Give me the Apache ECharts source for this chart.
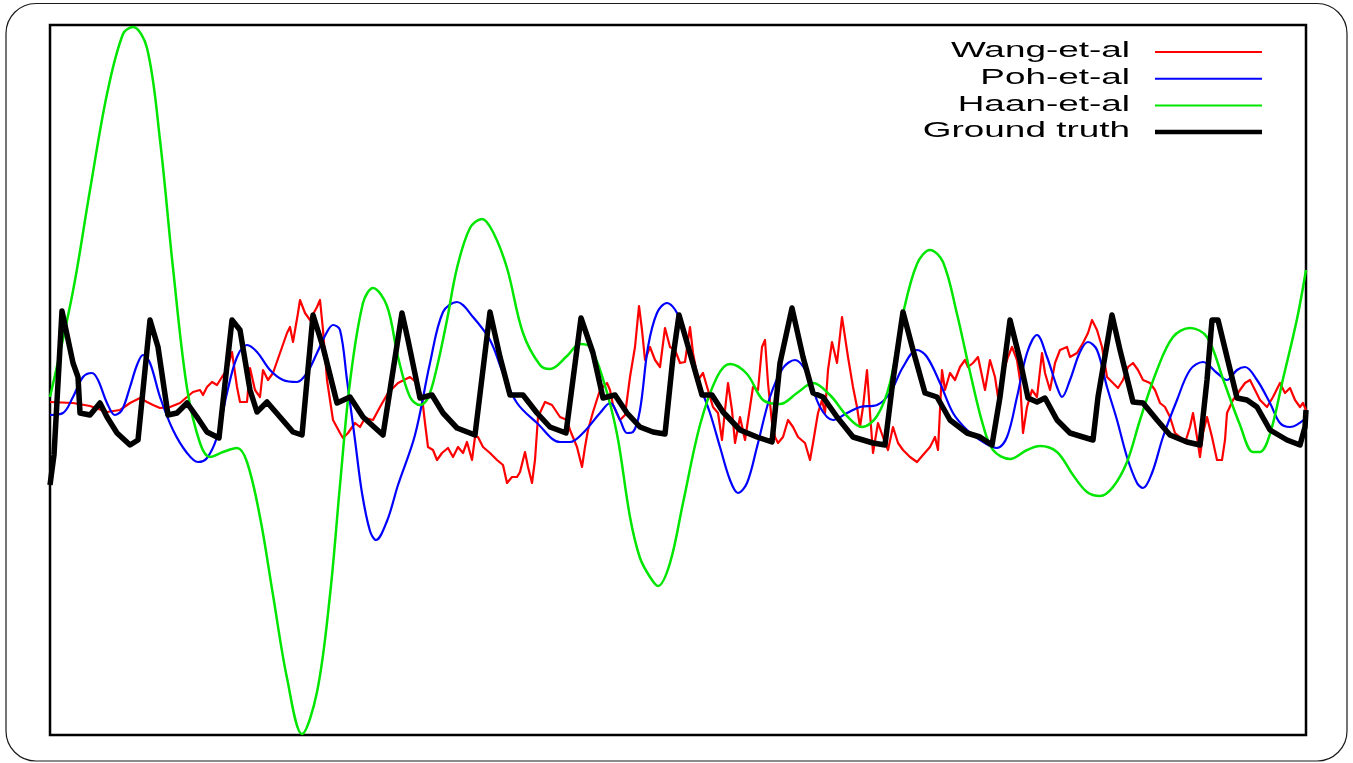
<!DOCTYPE html>
<html>
<head>
<meta charset="utf-8">
<script src="https://cdn.jsdelivr.net/npm/echarts@6/dist/echarts.min.js"></script>
<style>
  html, body { margin: 0; padding: 0; background: #fff; }
  #chart { width: 1353px; height: 763px; }
</style>
</head>
<body>
<div id="chart"></div>
<script>
// Series names (legend order)
const seriesNames = ['Wang-et-al', 'Poh-et-al', 'Haan-et-al', 'Ground truth'];
const seriesColors = ['#ff0000', '#0000ff', '#00e600', '#000000'];

// Each point: [time sample, amplitude]
const wangEtAl = [
  [0,-22],[23,-23],[40,-26],[57,-32],[70,-30],[80,-23],[90,-18],[97,-22],[103,-25],[110,-28],[120,-27],[130,-23],
  [137,-17],[143,-12],[150,-10],[153,-15],[157,-7],[162,-2],[167,-5],[172,3],[177,10],[182,28],[187,-7],[190,-22],
  [197,-22],[200,12],[205,-10],[210,-17],[213,10],[218,0],[223,7],[230,27],[237,47],[240,53],[243,38],[248,67],
  [250,80],[255,67],[260,60],[267,73],[270,80],[273,50],[277,0],[283,-40],[290,-53],[293,-58],[298,-53],[305,-43],
  [310,-47],[315,-38],[323,-40],[330,-27],[338,-13],[348,-3],[360,3],[367,-3],[372,-17],[375,-43],[378,-67],[383,-70],
  [387,-80],[392,-73],[398,-68],[403,-77],[408,-67],[413,-73],[417,-62],[422,-80],[425,-57],[428,-57],[433,-67],[440,-73],
  [447,-80],[453,-85],[457,-103],[462,-97],[467,-97],[470,-92],[475,-72],[478,-87],[482,-103],[485,-80],[488,-37],[495,-22],
  [502,-25],[510,-37],[517,-40],[520,-50],[527,-67],[532,-87],[535,-67],[538,-50],[543,-32],[550,-10],[557,-3],[560,-10],
  [563,-25],[570,-40],[575,-35],[580,3],[585,33],[589,74],[592,50],[595,20],[600,33],[605,20],[610,13],[615,52],
  [620,33],[625,30],[630,17],[635,18],[640,53],[643,27],[648,0],[653,7],[658,-10],[663,-27],[668,-33],[672,-60],
  [675,-30],[678,-3],[682,-30],[685,-63],[690,-37],[695,-60],[700,-27],[703,-7],[708,-10],[712,33],[715,40],[718,-3],
  [722,-43],[725,-57],[728,-63],[733,-57],[738,-40],[743,-47],[748,-57],[755,-63],[760,-80],[763,-63],[768,-33],[772,-20],
  [775,-33],[778,10],[782,38],[787,17],[792,63],[795,43],[798,23],[803,-7],[807,-27],[810,-47],[813,-27],[817,10],
  [820,-33],[823,-73],[828,-43],[833,-57],[838,-70],[843,-47],[848,-63],[853,-70],[860,-77],[867,-82],[873,-75],[880,-67],
  [885,-57],[888,-70],[892,10],[895,-10],[900,7],[905,0],[910,13],[915,20],[918,13],[923,17],[928,23],[935,-10],
  [940,20],[945,3],[948,-17],[953,7],[958,23],[962,33],[967,20],[970,0],[973,-53],[977,-27],[982,-10],[987,-17],
  [992,27],[995,7],[1000,-10],[1005,17],[1010,30],[1017,33],[1020,23],[1027,27],[1033,37],[1038,47],[1042,60],[1047,50],
  [1052,33],[1057,3],[1063,-3],[1068,-8],[1073,0],[1078,13],[1083,17],[1088,10],[1093,0],[1100,-3],[1105,-10],[1110,-23],
  [1115,-27],[1120,-37],[1125,-53],[1130,-57],[1135,-63],[1140,-47],[1143,-33],[1147,-57],[1150,-77],[1153,-53],[1157,-37],[1162,-57],
  [1167,-80],[1172,-80],[1175,-60],[1177,-33],[1183,-20],[1190,-10],[1195,-3],[1200,0],[1205,-10],[1210,-20],[1217,-27],[1223,-17],
  [1230,-3],[1235,-13],[1240,-8],[1245,-20],[1250,-27],[1253,-23],[1256,-30]
];

const pohEtAl = [
  [0,-35],[13,-33],[23,-17],[33,3],[42,7],[48,0],[57,-23],[65,-35],[72,-30],[80,-7],[87,15],[93,25],[100,17],
  [110,-17],[123,-50],[137,-73],[148,-82],[157,-78],[167,-57],[177,-13],[187,23],[197,35],[207,28],[220,10],[233,0],
  [247,-2],[257,7],[267,27],[277,48],[283,55],[290,50],[297,0],[305,-60],[312,-113],[320,-151],[326,-160],[337,-141],
  [348,-105],[365,-55],[380,17],[393,68],[407,78],[423,63],[440,40],[453,7],[467,-23],[487,-43],[510,-62],[520,-62],
  [533,-53],[550,-33],[560,-23],[570,-40],[577,-53],[583,-52],[590,-30],[598,33],[607,67],[617,77],[627,67],[637,37],
  [648,0],[660,-33],[670,-67],[680,-100],[688,-113],[697,-103],[707,-67],[720,-17],[733,12],[745,20],[757,7],[770,-27],
  [783,-40],[797,-33],[810,-27],[827,-25],[840,-13],[853,13],[867,30],[877,23],[890,-3],[903,-33],[917,-50],[930,-60],
  [947,-68],[957,-57],[967,-17],[977,27],[987,45],[997,23],[1007,-7],[1012,-17],[1020,0],[1030,28],[1038,38],[1047,30],
  [1057,-7],[1067,-40],[1077,-77],[1087,-103],[1093,-108],[1102,-93],[1113,-57],[1127,-20],[1140,10],[1153,18],[1167,7],
  [1177,0],[1187,10],[1195,13],[1207,0],[1220,-23],[1230,-43],[1240,-47],[1256,-38]
];

const haanEtAl = [
  [0,-17],[23,89],[40,190],[57,286],[73,346],[83,353],[97,332],[110,240],[123,112],[137,-8],[150,-63],[160,-77],
  [173,-72],[187,-68],[197,-82],[210,-137],[223,-215],[237,-298],[252,-354],[267,-312],[280,-215],[290,-105],[300,-2],
  [313,77],[323,92],[337,74],[348,23],[360,-17],[370,-25],[378,-18],[387,13],[397,60],[407,112],[420,152],[432,161],
  [443,148],[457,112],[473,47],[490,15],[500,11],[517,24],[530,36],[540,33],[553,1],[567,-54],[580,-137],[590,-178],
  [600,-197],[608,-206],[620,-183],[633,-123],[650,-45],[667,3],[680,16],[697,6],[713,-20],[730,-24],[747,-13],[763,-3],
  [780,-15],[797,-36],[812,-47],[827,-36],[840,-3],[853,66],[867,116],[880,130],[893,118],[907,66],[920,8],[933,-45],
  [943,-70],[960,-79],[977,-70],[990,-66],[1007,-72],[1023,-95],[1037,-112],[1050,-116],[1063,-107],[1077,-82],[1090,-40],
  [1107,10],[1123,43],[1140,52],[1157,43],[1173,1],[1190,-45],[1203,-72],[1210,-72],[1220,-54],[1233,1],[1247,61],[1256,110]
];

const groundTruth = [
  [0,-105],[4,-75],[12,69],[23,17],[28,3],[30,-33],[40,-35],[50,-23],[57,-37],[67,-53],[80,-65],[88,-60],
  [100,60],[108,33],[118,-35],[127,-33],[137,-23],[147,-37],[157,-52],[169,-58],[182,60],[190,50],[200,-10],[207,-32],
  [217,-22],[230,-37],[243,-52],[252,-55],[263,65],[273,33],[287,-23],[300,-17],[313,-37],[333,-55],[352,67],[358,40],
  [370,-18],[382,-15],[393,-33],[407,-48],[425,-55],[440,68],[450,23],[460,-15],[473,-15],[487,-33],[500,-47],[516,-53],
  [531,62],[543,27],[553,-18],[565,-15],[577,-33],[590,-47],[603,-52],[615,-54],[623,23],[629,65],[640,27],[652,-15],
  [662,-15],[673,-32],[690,-50],[707,-57],[722,-62],[730,17],[742,72],[753,23],[763,-13],[773,-17],[787,-37],[803,-57],
  [823,-63],[835,-65],[843,0],[853,68],[863,30],[875,-13],[887,-17],[900,-40],[917,-53],[930,-57],[942,-65],[950,-17],
  [960,60],[970,20],[978,-18],[987,-22],[995,-18],[1007,-40],[1020,-53],[1033,-57],[1043,-60],[1048,-17],[1062,65],[1070,30],
  [1083,-22],[1093,-23],[1107,-40],[1120,-55],[1137,-62],[1150,-65],[1157,0],[1162,60],[1168,60],[1177,23],[1187,-18],[1197,-20],
  [1207,-27],[1220,-50],[1237,-60],[1250,-65],[1255,-47],[1256,-30]
];

const xRange = [0, 1256];
const yRange = [-355, 355];

const chart = echarts.init(document.getElementById('chart'), null, { renderer: 'canvas' });

const seriesData = [wangEtAl, pohEtAl, haanEtAl, groundTruth];
const lineWidths = [2.2, 2.2, 2.5, 5.5];
const smoothing = [false, 0.35, 0.35, false];

// Legend drawn as stretched text (the reference's text is horizontally stretched)
const legendRight = 1130, legendTop = 52, legendStep = 26.7;
const legendGraphics = [];
seriesNames.forEach((name, i) => {
  const y = legendTop + i * legendStep;
  legendGraphics.push({
    type: 'text', x: legendRight, y: y - 1, scaleX: 1.64, scaleY: 1,
    style: { text: name, fontSize: 22.5, fontFamily: 'Liberation Sans, Arial, sans-serif',
             fill: '#000', align: 'right', verticalAlign: 'middle' }
  });
  legendGraphics.push({
    type: 'line',
    shape: { x1: 1155, y1: y, x2: 1262, y2: y },
    style: { stroke: seriesColors[i], lineWidth: i === 3 ? 4.5 : 2 }
  });
});

const option = {
  animation: false,
  backgroundColor: '#ffffff',
  grid: { left: 50, right: 47, top: 25, bottom: 28, show: true, borderColor: '#000', borderWidth: 2.5, backgroundColor: 'transparent' },
  xAxis: {
    type: 'value', min: xRange[0], max: xRange[1],
    axisLine: { show: false }, axisTick: { show: false }, axisLabel: { show: false }, splitLine: { show: false }
  },
  yAxis: {
    type: 'value', min: yRange[0], max: yRange[1],
    axisLine: { show: false }, axisTick: { show: false }, axisLabel: { show: false }, splitLine: { show: false }
  },
  graphic: [
    {
      type: 'rect', z: 100,
      shape: { x: 6, y: 3.5, width: 1341, height: 757.5, r: 30 },
      style: { fill: null, stroke: '#1a1a1a', lineWidth: 1.2 }
    }
  ].concat(legendGraphics),
  series: seriesNames.map((name, i) => ({
    name: name,
    type: 'line',
    data: seriesData[i],
    showSymbol: false,
    symbol: 'none',
    smooth: smoothing[i],
    lineStyle: { color: seriesColors[i], width: lineWidths[i], join: 'round' },
    itemStyle: { color: seriesColors[i] },
    z: 2 + i
  }))
};

chart.setOption(option);
</script>
</body>
</html>
